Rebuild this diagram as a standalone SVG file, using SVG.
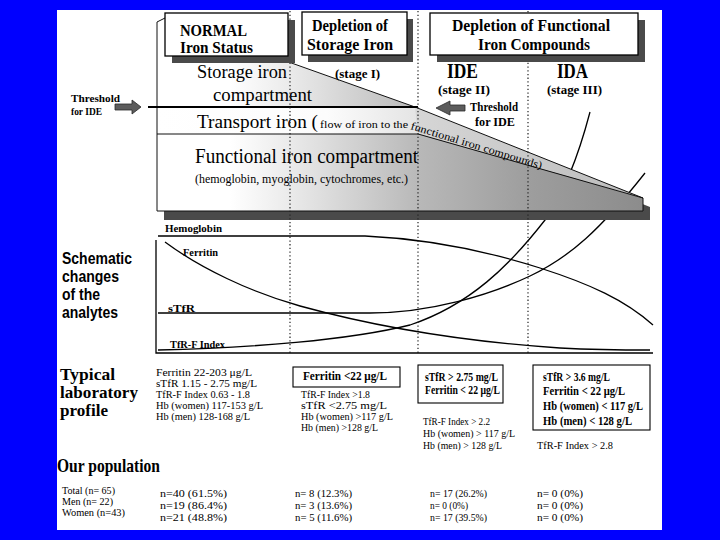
<svg xmlns="http://www.w3.org/2000/svg" width="720" height="540" viewBox="0 0 720 540">
<defs>
  <linearGradient id="gMain" gradientUnits="userSpaceOnUse" x1="157" y1="0" x2="643" y2="0">
    <stop offset="0" stop-color="#ffffff"/>
    <stop offset="0.15" stop-color="#ffffff"/>
    <stop offset="0.27" stop-color="#ebebeb"/>
    <stop offset="0.54" stop-color="#b8b8b8"/>
    <stop offset="0.76" stop-color="#9e9e9e"/>
    <stop offset="1" stop-color="#8c8c8c"/>
  </linearGradient>
  <linearGradient id="gTrans" gradientUnits="userSpaceOnUse" x1="157" y1="0" x2="418" y2="0">
    <stop offset="0" stop-color="#ffffff"/>
    <stop offset="0.65" stop-color="#fcfcfc"/>
    <stop offset="1" stop-color="#e4e4e4"/>
  </linearGradient>
  <linearGradient id="gStrip" gradientUnits="userSpaceOnUse" x1="415" y1="0" x2="643" y2="0">
    <stop offset="0" stop-color="#d6d6d6"/>
    <stop offset="1" stop-color="#bcbcbc"/>
  </linearGradient>
</defs>
<style>
  .sr { font-family: "Liberation Serif", "Times New Roman", serif; fill: #000; }
  .sb { font-family: "Liberation Serif", "Times New Roman", serif; font-weight: bold; fill: #000; }
  .ss { font-family: "Liberation Sans", Arial, sans-serif; font-weight: bold; fill: #000; }
  .box { fill: #ffffff; stroke: #000; stroke-width: 1.3; }
  .lbox { fill: #ffffff; stroke: #000; stroke-width: 1.1; }
  .shadow { fill: #4a4a4a; }
  .dot { stroke: #222; stroke-width: 1.2; stroke-dasharray: 1.3 2.4; fill: none; }
  .curve { fill: none; stroke: #000; stroke-width: 1.3; }
  .edge { fill: none; stroke: #111; stroke-width: 1; }
  .arrow { fill: #5c5c5c; stroke: #2a2a2a; stroke-width: 0.8; }
</style>

<rect x="0" y="0" width="720" height="540" fill="#0000ff"/>
<rect x="57" y="10" width="605" height="520" fill="#ffffff"/>

<!-- analyte curves (drawn first; partly hidden by the compartment shape) -->
<g id="curves">
  <path class="curve" d="M158,236 H365 C430,239 490,252 540,268 C590,284 625,300 653,325"/>
  <path class="curve" d="M165,242 C200,268 250,292 300,306 C380,328 470,342 560,348 C600,350 630,350 650,350"/>
  <path class="curve" d="M158,313 H370 C430,313 490,295 530,276 C570,257 600,230 645,173"/>
  <path class="curve" d="M158,350 C250,348 350,340 410,325 C470,305 510,265 545,220 C565,192 580,150 590,112"/>
</g>

<!-- iron compartments shape -->
<g id="compartments">
  <polygon class="shadow" points="164,31 172,27 422,116 650,207 650,220 164,220"/>
  <polygon fill="url(#gMain)" points="157,22 165,18 415,107 157,107"/>
  <polygon fill="url(#gTrans)" points="157,107 418,107 418,134 157,134"/>
  <polygon fill="url(#gStrip)" points="415,107 643,198 418,134"/>
  <polygon fill="url(#gMain)" points="157,134 418,134 643,198 643,211 157,211"/>
  <polyline class="edge" points="157,211 157,22 165,18 415,107 643,198 643,211 157,211"/>
  <line class="edge" x1="157" y1="134" x2="418" y2="134"/>
  <line class="edge" x1="418" y1="134" x2="643" y2="198" stroke="#333"/>
  <line x1="148" y1="107" x2="418" y2="107" stroke="#000" stroke-width="1.8"/>
  <text class="sr" x="197" y="78" font-size="19" textLength="90" lengthAdjust="spacingAndGlyphs">Storage iron</text>
  <text class="sr" x="213" y="101" font-size="19" textLength="99" lengthAdjust="spacingAndGlyphs">compartment</text>
  <text class="sr" x="197" y="128" font-size="19" textLength="121" lengthAdjust="spacingAndGlyphs">Transport  iron (</text>
  <text class="sr" x="320" y="128" font-size="11" textLength="88" lengthAdjust="spacingAndGlyphs">flow of iron to the</text>
  <text class="sr" transform="translate(410,129) rotate(17)" font-size="11" textLength="137" lengthAdjust="spacingAndGlyphs">functional iron compounds)</text>
  <text class="sr" x="195" y="163" font-size="20" textLength="223" lengthAdjust="spacingAndGlyphs">Functional  iron compartment</text>
  <text class="sr" x="195" y="183" font-size="11.5" textLength="213" lengthAdjust="spacingAndGlyphs">(hemoglobin, myoglobin, cytochromes, etc.)</text>
</g>

<!-- stage dividers -->
<g id="dividers">
  <line class="dot" x1="290" y1="11" x2="290" y2="353"/>
  <line class="dot" x1="418" y1="11" x2="418" y2="353"/>
  <line class="dot" x1="528" y1="11" x2="528" y2="353"/>
</g>

<!-- header boxes -->
<g id="header-normal">
  <rect class="shadow" x="172" y="20" width="123" height="43"/>
  <rect class="box" x="165" y="13" width="123" height="43"/>
  <text class="sb" x="180" y="35.5" font-size="16" textLength="67" lengthAdjust="spacingAndGlyphs">NORMAL</text>
  <text class="sb" x="180" y="53" font-size="16" textLength="73" lengthAdjust="spacingAndGlyphs">Iron Status</text>
</g>
<g id="header-storage">
  <rect class="shadow" x="308" y="19" width="105" height="43"/>
  <rect class="box" x="302" y="12" width="105" height="43"/>
  <text class="sb" x="312" y="31" font-size="16.5" textLength="76" lengthAdjust="spacingAndGlyphs">Depletion of</text>
  <text class="sb" x="307" y="50" font-size="16.5" textLength="86" lengthAdjust="spacingAndGlyphs">Storage Iron</text>
</g>
<g id="header-functional">
  <rect class="shadow" x="437" y="20" width="208" height="42"/>
  <rect class="box" x="430" y="13" width="208" height="42"/>
  <text class="sb" x="452" y="31" font-size="16.5" textLength="158" lengthAdjust="spacingAndGlyphs">Depletion of  Functional</text>
  <text class="sb" x="478" y="50" font-size="16.5" textLength="112" lengthAdjust="spacingAndGlyphs">Iron Compounds</text>
</g>

<!-- stage labels -->
<g id="stages">
  <text class="sb" x="335" y="78" font-size="12.5" textLength="45" lengthAdjust="spacingAndGlyphs">(stage I)</text>
  <text class="sb" x="447" y="78" font-size="20" textLength="31" lengthAdjust="spacingAndGlyphs">IDE</text>
  <text class="sb" x="438" y="94" font-size="12.5" textLength="52" lengthAdjust="spacingAndGlyphs">(stage II)</text>
  <text class="sb" x="557" y="78" font-size="20" textLength="31" lengthAdjust="spacingAndGlyphs">IDA</text>
  <text class="sb" x="547" y="94" font-size="12.5" textLength="55" lengthAdjust="spacingAndGlyphs">(stage III)</text>
</g>

<!-- thresholds -->
<g id="threshold-left">
  <polygon class="arrow" points="115,104 132,104 132,100 141,107 132,114 132,110 115,110"/>
  <text class="sb" x="71" y="102" font-size="11" textLength="49" lengthAdjust="spacingAndGlyphs">Threshold</text>
  <text class="sb" x="71" y="115" font-size="11" textLength="31" lengthAdjust="spacingAndGlyphs">for  IDE</text>
</g>
<g id="threshold-right">
  <polygon class="arrow" points="465,105 450,105 450,101 436,108 450,115 450,111 465,111"/>
  <text class="sb" x="470" y="111" font-size="11.5" textLength="48" lengthAdjust="spacingAndGlyphs">Threshold</text>
  <text class="sb" x="475" y="126" font-size="11.5" textLength="40" lengthAdjust="spacingAndGlyphs">for  IDE</text>
</g>

<!-- analytes chart -->
<g id="analytes-chart">
  <polyline fill="none" stroke="#000" stroke-width="1.3" points="156,240 156,353 653,353"/>
  <text class="sb" x="165" y="232" font-size="11" textLength="57" lengthAdjust="spacingAndGlyphs">Hemoglobin</text>
  <text class="sb" x="183" y="256" font-size="11" textLength="35" lengthAdjust="spacingAndGlyphs">Ferritin</text>
  <text class="sb" x="168" y="312" font-size="11" textLength="27" lengthAdjust="spacingAndGlyphs">sTfR</text>
  <text class="sb" x="170" y="348" font-size="11" textLength="55" lengthAdjust="spacingAndGlyphs">TfR-F Index</text>
</g>
<g id="analytes-title">
  <text class="ss" x="62" y="264" font-size="16" textLength="70" lengthAdjust="spacingAndGlyphs">Schematic</text>
  <text class="ss" x="62" y="282" font-size="16" textLength="57" lengthAdjust="spacingAndGlyphs">changes</text>
  <text class="ss" x="62" y="300" font-size="16" textLength="38" lengthAdjust="spacingAndGlyphs">of the</text>
  <text class="ss" x="62" y="318" font-size="16" textLength="56" lengthAdjust="spacingAndGlyphs">analytes</text>
</g>

<!-- typical laboratory profile -->
<g id="lab-title">
  <text class="sb" x="60" y="380" font-size="16.3" textLength="55" lengthAdjust="spacingAndGlyphs">Typical</text>
  <text class="sb" x="60" y="398" font-size="16.3" textLength="78" lengthAdjust="spacingAndGlyphs">laboratory</text>
  <text class="sb" x="60" y="416" font-size="16.3" textLength="48" lengthAdjust="spacingAndGlyphs">profile</text>
</g>
<g id="lab-normal">
  <text class="sr" x="156" y="376" font-size="11" textLength="96" lengthAdjust="spacingAndGlyphs">Ferritin 22-203 μg/L</text>
  <text class="sr" x="156" y="387" font-size="11" textLength="101" lengthAdjust="spacingAndGlyphs">sTfR  1.15 - 2.75 mg/L</text>
  <text class="sr" x="156" y="398" font-size="11" textLength="94" lengthAdjust="spacingAndGlyphs">TfR-F Index  0.63 - 1.8</text>
  <text class="sr" x="156" y="409" font-size="11" textLength="107" lengthAdjust="spacingAndGlyphs">Hb (women) 117-153 g/L</text>
  <text class="sr" x="156" y="420" font-size="11" textLength="94" lengthAdjust="spacingAndGlyphs">Hb (men) 128-168 g/L</text>
</g>
<g id="lab-stage1">
  <rect class="lbox" x="293" y="367" width="107" height="20"/>
  <text class="sb" x="303" y="380" font-size="11.5" textLength="84" lengthAdjust="spacingAndGlyphs">Ferritin  &lt;22 μg/L</text>
  <text class="sr" x="301" y="398" font-size="10.5" textLength="69" lengthAdjust="spacingAndGlyphs">TfR-F Index &gt;1.8</text>
  <text class="sr" x="301" y="409" font-size="10.5" textLength="86" lengthAdjust="spacingAndGlyphs">sTfR  &lt;2.75 mg/L</text>
  <text class="sr" x="301" y="420" font-size="10.5" textLength="92" lengthAdjust="spacingAndGlyphs">Hb (women) &gt;117 g/L</text>
  <text class="sr" x="301" y="431" font-size="10.5" textLength="77" lengthAdjust="spacingAndGlyphs">Hb (men) &gt;128 g/L</text>
</g>
<g id="lab-stage2">
  <rect class="lbox" x="418" y="365" width="85" height="38"/>
  <text class="sb" x="425" y="381" font-size="11.5" textLength="73" lengthAdjust="spacingAndGlyphs">sTfR &gt; 2.75 mg/L</text>
  <text class="sb" x="425" y="394" font-size="11.5" textLength="75" lengthAdjust="spacingAndGlyphs">Ferritin &lt; 22 μg/L</text>
  <text class="sr" x="423" y="425" font-size="11" textLength="67" lengthAdjust="spacingAndGlyphs">TfR-F Index &gt; 2.2</text>
  <text class="sr" x="423" y="437" font-size="11" textLength="92" lengthAdjust="spacingAndGlyphs">Hb (women)  &gt; 117 g/L</text>
  <text class="sr" x="423" y="449" font-size="11" textLength="79" lengthAdjust="spacingAndGlyphs">Hb (men) &gt; 128 g/L</text>
</g>
<g id="lab-stage3">
  <rect class="lbox" x="533" y="365" width="117" height="65"/>
  <text class="sb" x="543" y="381" font-size="11.5" textLength="67" lengthAdjust="spacingAndGlyphs">sTfR &gt; 3.6 mg/L</text>
  <text class="sb" x="543" y="395" font-size="11.5" textLength="82" lengthAdjust="spacingAndGlyphs">Ferritin &lt; 22  μg/L</text>
  <text class="sb" x="543" y="410" font-size="12.5" textLength="100" lengthAdjust="spacingAndGlyphs">Hb (women) &lt; 117 g/L</text>
  <text class="sb" x="543" y="425" font-size="12.5" textLength="89" lengthAdjust="spacingAndGlyphs">Hb (men) &lt; 128 g/L</text>
  <text class="sr" x="537" y="449" font-size="11" textLength="76" lengthAdjust="spacingAndGlyphs">TfR-F Index &gt; 2.8</text>
</g>

<!-- our population -->
<g id="population">
  <text class="sb" x="57" y="472" font-size="19" textLength="103" lengthAdjust="spacingAndGlyphs">Our population</text>
  <text class="sr" x="62" y="494" font-size="11" textLength="53" lengthAdjust="spacingAndGlyphs">Total (n= 65)</text>
  <text class="sr" x="62" y="505" font-size="11" textLength="51" lengthAdjust="spacingAndGlyphs">Men (n= 22)</text>
  <text class="sr" x="62" y="516" font-size="11" textLength="63" lengthAdjust="spacingAndGlyphs">Women (n=43)</text>

  <text class="sr" x="160" y="497" font-size="11" textLength="67" lengthAdjust="spacingAndGlyphs">n=40  (61.5%)</text>
  <text class="sr" x="160" y="509" font-size="11" textLength="67" lengthAdjust="spacingAndGlyphs">n=19  (86.4%)</text>
  <text class="sr" x="160" y="521" font-size="11" textLength="67" lengthAdjust="spacingAndGlyphs">n=21  (48.8%)</text>

  <text class="sr" x="295" y="497" font-size="11" textLength="57" lengthAdjust="spacingAndGlyphs">n= 8  (12.3%)</text>
  <text class="sr" x="295" y="509" font-size="11" textLength="57" lengthAdjust="spacingAndGlyphs">n= 3  (13.6%)</text>
  <text class="sr" x="295" y="521" font-size="11" textLength="57" lengthAdjust="spacingAndGlyphs">n= 5  (11.6%)</text>

  <text class="sr" x="430" y="497" font-size="11" textLength="57" lengthAdjust="spacingAndGlyphs">n= 17  (26.2%)</text>
  <text class="sr" x="430" y="509" font-size="11" textLength="38" lengthAdjust="spacingAndGlyphs">n= 0  (0%)</text>
  <text class="sr" x="430" y="521" font-size="11" textLength="57" lengthAdjust="spacingAndGlyphs">n= 17  (39.5%)</text>

  <text class="sr" x="537" y="497" font-size="11" textLength="46" lengthAdjust="spacingAndGlyphs">n= 0  (0%)</text>
  <text class="sr" x="537" y="509" font-size="11" textLength="46" lengthAdjust="spacingAndGlyphs">n= 0  (0%)</text>
  <text class="sr" x="537" y="521" font-size="11" textLength="46" lengthAdjust="spacingAndGlyphs">n= 0  (0%)</text>
</g>
</svg>
